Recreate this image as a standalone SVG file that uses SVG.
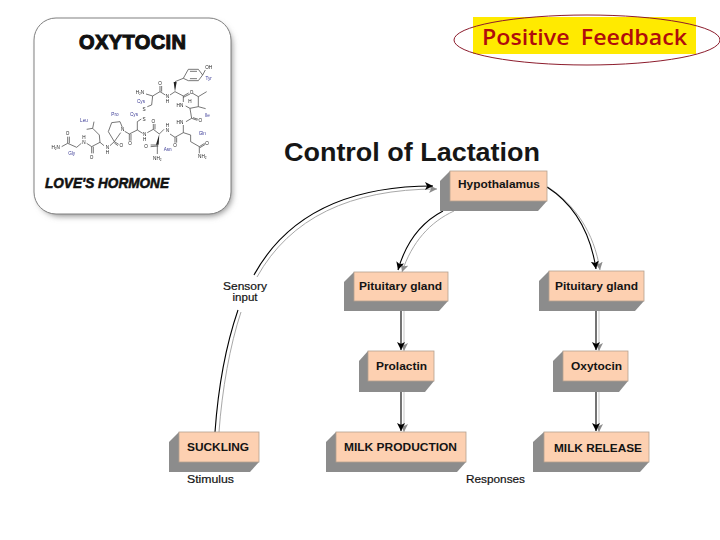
<svg xmlns="http://www.w3.org/2000/svg" width="720" height="540" viewBox="0 0 720 540">
<style>
.shadow{fill:#8c8c8c}
.face{fill:#fdd0b1;stroke:#b5a08f;stroke-width:.8}
.lbl{font-family:"Liberation Sans",Arial,sans-serif;font-weight:bold;font-size:11.5px;fill:#141414;text-anchor:middle}
.cap{font-family:"Liberation Sans",Arial,sans-serif;font-size:11px;fill:#141414;text-anchor:middle;stroke:#141414;stroke-width:.2}
.k{fill:none;stroke:#000;stroke-width:1.1}
.g{fill:none;stroke:#a8a8a8;stroke-width:1}
.gl{fill:none;stroke:#d0d0d0;stroke-width:1.2}
.bond{fill:none;stroke:#444;stroke-width:2.2}
.chem{font-family:"Liberation Sans",Arial,sans-serif;font-size:14px;fill:#222;text-anchor:middle}
.aa{font-family:"Liberation Sans",Arial,sans-serif;font-size:14px;fill:#3c3c96;text-anchor:middle}
</style>
<defs>
<marker id="ak" markerUnits="userSpaceOnUse" markerWidth="10" markerHeight="10" refX="8" refY="4" orient="auto"><path d="M0 0L8 4L0 8L2 4Z" fill="#000"/></marker>
<marker id="ag" markerUnits="userSpaceOnUse" markerWidth="10" markerHeight="10" refX="8" refY="4" orient="auto"><path d="M0 0L8 4L0 8L2 4Z" fill="#8c8c8c"/></marker>
<filter id="soft" x="-10%" y="-10%" width="125%" height="125%"><feGaussianBlur stdDeviation="3"/></filter>
<filter id="mol" x="-5%" y="-5%" width="110%" height="110%"><feGaussianBlur stdDeviation=".3"/></filter>
</defs>
<rect width="720" height="540" fill="#fff"/>

<g id="sticker">
<rect x="38" y="23" width="194" height="193" rx="22" fill="#8a8a8a" filter="url(#soft)"/>
<rect x="34" y="18" width="197" height="196" rx="22" fill="#fff" stroke="#808080" stroke-width="1"/>
<text x="132.500" y="49" font-family="'Liberation Sans',Arial,sans-serif" font-weight="bold" font-size="20px" fill="#111" stroke="#111" stroke-width="1.1" text-anchor="middle" textLength="107" lengthAdjust="spacing">OXYTOCIN</text>
<text x="107" y="188" font-family="'Liberation Sans',Arial,sans-serif" font-weight="bold" font-style="italic" font-size="15.500px" fill="#111" stroke="#111" stroke-width=".6" text-anchor="middle" textLength="124" lengthAdjust="spacingAndGlyphs">LOVE'S HORMONE</text>
<g transform="translate(20 10) scale(.3333)" filter="url(#mol)">
<path class="bond" d="M125 410L143 400L170 412L184 400M143 400V380M148 400V380M200 400L215 410V430M220 410V430M215 410L240 397L252 407M240 397L238 375L218 355L222 335M218 355L200 358M270 407L283 395L296 403M283 399L294 407M283 395L265 365L275 338L300 335L307 352M283 395L302 368M314 364L328 372V392M333 372V392M328 372L352 360V335L364 327M352 360L368 370M395 285L398 258L378 252M382 290L395 285M398 258L420 245V228M425 245V228M420 245L436 255M450 255L465 245L490 258L506 249M490 262L510 252M490 258V276M497 288L510 295L535 290V260L560 245M535 260L518 250M535 290L557 296M510 295L515 325L532 331M519 323L535 328M515 325L498 335M490 345V368L465 382L450 372M465 382V398M470 382V398M490 368L512 375V395L538 410L554 400M540 413L556 403M538 410V430M432 358L418 372L400 358V342M405 358V342M400 358L382 368M412 405L392 405M415 408L392 410M412 405V432M465 215L490 205L505 178H535L548 195L535 212H505L490 205M510 184H531M531 206H510M548 195L556 180"/>
<path d="M465 245L461 216H470Z" fill="#222"/>
<path d="M418 372L408 404H416Z" fill="#222"/>
<text class="chem" x="107" y="418">H₂N</text><text class="chem" x="143" y="376">O</text><text class="chem" x="192" y="386">H</text><text class="chem" x="192" y="401">N</text><text class="chem" x="215" y="446">O</text><text class="chem" x="262" y="417">N</text><text class="chem" x="262" y="432">H</text><text class="chem" x="304" y="411">O</text><text class="chem" x="308" y="364">N</text><text class="chem" x="330" y="406">O</text><text class="chem" x="372" y="332">S</text><text class="chem" x="372" y="304">S</text><text class="chem" x="360" y="253">H₂N</text><text class="chem" x="420" y="224">O</text><text class="chem" x="442" y="265">N</text><text class="chem" x="442" y="280">H</text><text class="chem" x="515" y="252">O</text><text class="chem" x="480" y="291">HN</text><text class="chem" x="510" y="280">H</text><text class="chem" x="541" y="336">O</text><text class="chem" x="480" y="341">HN</text><text class="chem" x="442" y="350">H</text><text class="chem" x="442" y="365">N</text><text class="chem" x="465" y="411">O</text><text class="chem" x="400" y="338">O</text><text class="chem" x="374" y="379">N</text><text class="chem" x="374" y="394">H</text><text class="chem" x="378" y="413">O</text><text class="chem" x="412" y="451">NH₂</text><text class="chem" x="561" y="405">O</text><text class="chem" x="547" y="443">NH₂</text><text class="chem" x="566" y="176">OH</text>
<text class="aa" x="155" y="436">Gly</text><text class="aa" x="192" y="336">Leu</text><text class="aa" x="285" y="318">Pro</text><text class="aa" x="342" y="317">Cys</text><text class="aa" x="363" y="279">Cys</text><text class="aa" x="443" y="422">Asn</text><text class="aa" x="547" y="375">Gln</text><text class="aa" x="562" y="322">Ile</text><text class="aa" x="566" y="211">Tyr</text>
</g>
</g>

<g id="badge">
<rect x="473" y="17" width="223" height="37" fill="#ffea00"/>
<ellipse cx="587" cy="40" rx="133" ry="25" fill="none" stroke="#8c1c2c" stroke-width="1"/>
<text x="584.500" y="45" font-family="'Open Sans','DejaVu Sans',sans-serif" font-weight="600" font-size="22px" word-spacing="5" fill="#b00c0c" text-anchor="middle" textLength="205" lengthAdjust="spacingAndGlyphs">Positive Feedback</text>
</g>

<text id="title" x="412" y="161" font-family="'Liberation Sans',Arial,sans-serif" font-weight="bold" font-size="25px" fill="#161616" text-anchor="middle" textLength="256" lengthAdjust="spacingAndGlyphs">Control of Lactation</text>

<g id="connectors">
<path class="g" d="M219 432C222 390 230 345 241 312" />
<path class="g" d="M257 277C290 218 350 189 437 189" marker-end="url(#ag)"/>
<path class="k" d="M215 432C218 390 226 345 238 310"/>
<path class="k" d="M254 275C287 215 347 186 433 186" marker-end="url(#ak)"/>
<path class="g" d="M454 211C430 222 412 242 402 272" marker-end="url(#ag)"/>
<path class="k" d="M443 211C422 222 406 242 398 270" marker-end="url(#ak)"/>
<path class="g" d="M548 187C575 205 594 232 600 270" marker-end="url(#ag)"/>
<path class="k" d="M547 187C572 203 590 230 596 269" marker-end="url(#ak)"/>
<path class="gl" d="M404 311V351" marker-end="url(#ag)"/><path class="k" d="M401 311V350" marker-end="url(#ak)"/>
<path class="gl" d="M404 392V432" marker-end="url(#ag)"/><path class="k" d="M401 392V431" marker-end="url(#ak)"/>
<path class="gl" d="M599 311V351" marker-end="url(#ag)"/><path class="k" d="M596 311V350" marker-end="url(#ak)"/>
<path class="gl" d="M599 392V432" marker-end="url(#ag)"/><path class="k" d="M596 392V431" marker-end="url(#ak)"/>
</g>

<g id="hypothalamus"><path class="shadow" d="M450 171L440 181V211H538L547 201Z"/><rect class="face" x="450" y="171" width="97" height="30"/><text class="lbl" x="499" y="188" textLength="82" lengthAdjust="spacingAndGlyphs">Hypothalamus</text></g>
<g id="pituitary-left"><path class="shadow" d="M354 272L344 282V311H439L448 301Z"/><rect class="face" x="354" y="272" width="94" height="29"/><text class="lbl" x="400.500" y="290" textLength="83" lengthAdjust="spacingAndGlyphs">Pituitary gland</text></g>
<g id="pituitary-right"><path class="shadow" d="M549 271L539 281V311H635L644 301Z"/><rect class="face" x="549" y="271" width="95" height="30"/><text class="lbl" x="596.500" y="290" textLength="83" lengthAdjust="spacingAndGlyphs">Pituitary gland</text></g>
<g id="prolactin"><path class="shadow" d="M368 351L359 361V392H425L434 381Z"/><rect class="face" x="368" y="351" width="66" height="30"/><text class="lbl" x="401.500" y="370" textLength="51" lengthAdjust="spacingAndGlyphs">Prolactin</text></g>
<g id="oxytocin"><path class="shadow" d="M563 351L553 361V392H619L628 381Z"/><rect class="face" x="563" y="351" width="65" height="30"/><text class="lbl" x="596.500" y="370" textLength="51" lengthAdjust="spacingAndGlyphs">Oxytocin</text></g>
<g id="suckling"><path class="shadow" d="M179 432L169 442V472H250L259 462Z"/><rect class="face" x="179" y="432" width="80" height="30"/><text class="lbl" x="218" y="451" textLength="62" lengthAdjust="spacingAndGlyphs">SUCKLING</text></g>
<g id="milk-production"><path class="shadow" d="M336 432L326 442V472H457L466 462Z"/><rect class="face" x="336" y="432" width="130" height="30"/><text class="lbl" x="400.500" y="451" textLength="113" lengthAdjust="spacingAndGlyphs">MILK PRODUCTION</text></g>
<g id="milk-release"><path class="shadow" d="M544 432L533 442V472H640L649 462Z"/><rect class="face" x="544" y="432" width="105" height="30"/><text class="lbl" x="598" y="452" textLength="88" lengthAdjust="spacingAndGlyphs">MILK RELEASE</text></g>

<g id="labels">
<text class="cap" x="245" y="290" textLength="44" lengthAdjust="spacingAndGlyphs">Sensory</text>
<text class="cap" x="245" y="301" textLength="25" lengthAdjust="spacingAndGlyphs">input</text>
<text class="cap" x="210.500" y="483" textLength="47" lengthAdjust="spacingAndGlyphs">Stimulus</text>
<text class="cap" x="495.500" y="483" textLength="59" lengthAdjust="spacingAndGlyphs">Responses</text>
</g>
</svg>
